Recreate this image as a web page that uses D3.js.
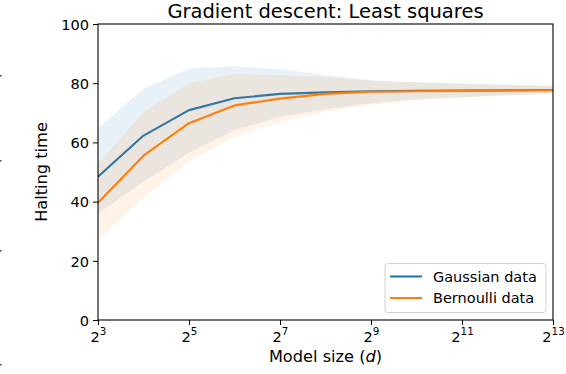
<!DOCTYPE html>
<html>
<head>
<meta charset="utf-8">
<script src="https://cdn.jsdelivr.net/npm/d3@7"></script>
<style>
  html, body { margin: 0; padding: 0; background: #fff; }
  svg { display: block; font-family: "DejaVu Sans", sans-serif; }
</style>
</head>
<body>
<svg id="chart" width="566" height="374"></svg>
<script>
// ---- data ----
const dims = [8, 16, 32, 64, 128, 256, 512, 1024, 2048, 4096, 8192];
const gaussMean = [48.4, 62.3, 70.9, 74.9, 76.4, 76.9, 77.3, 77.4, 77.5, 77.6, 77.7];
const gaussLow  = [36.0, 46.7, 56.5, 64.0, 68.7, 71.2, 73.2, 74.6, 75.3, 76.0, 76.6];
const gaussHigh = [64.9, 78.0, 85.0, 85.7, 84.7, 82.8, 81.0, 80.3, 79.9, 79.5, 79.1];
const bernMean  = [39.6, 55.5, 66.5, 72.5, 74.8, 76.4, 77.1, 77.3, 77.4, 77.5, 77.6];
const bernLow   = [27.0, 41.4, 53.6, 61.9, 67.0, 70.4, 72.6, 74.3, 75.1, 75.8, 76.4];
const bernHigh  = [52.8, 70.2, 80.0, 83.1, 82.7, 82.0, 80.8, 80.2, 79.8, 79.4, 79.0];
const xTickExps = [3, 5, 7, 9, 11, 13];
const yTicks = [0, 20, 40, 60, 80, 100];
const seriesNames = ["Gaussian data", "Bernoulli data"];
const colors = ["#1f77b4", "#ff7f0e"];
const title = "Gradient descent: Least squares";

// ---- layout ----
const L = 98, R = 553, T = 24, B = 320;
const svg = d3.select("#chart");
const x = d3.scaleLog().base(2).domain([8, 8192]).range([L, R]);
const y = d3.scaleLinear().domain([0, 100]).range([B, T]);

const series = [
  { name: seriesNames[0], color: colors[0], mean: gaussMean, low: gaussLow, high: gaussHigh },
  { name: seriesNames[1], color: colors[1], mean: bernMean, low: bernLow, high: bernHigh }
];

svg.append("clipPath").attr("id", "clip")
  .append("rect").attr("x", L).attr("y", T).attr("width", R - L).attr("height", B - T);
const plot = svg.append("g").attr("clip-path", "url(#clip)");

const area = d3.area().x(d => x(d.d)).y0(d => y(d.lo)).y1(d => y(d.hi));
const line = d3.line().x(d => x(d.d)).y(d => y(d.m));

series.forEach(s => {
  const pts = dims.map((d, i) => ({ d, m: s.mean[i], lo: s.low[i], hi: s.high[i] }));
  plot.append("path").datum(pts).attr("d", line)
    .attr("fill", "none").attr("stroke", s.color).attr("stroke-width", 2.1)
    .attr("stroke-linejoin", "round");
  plot.append("path").datum(pts).attr("d", area)
    .attr("fill", s.color).attr("fill-opacity", 0.1).attr("stroke", "none");
});

// ---- axes ----
const yAxis = svg.append("g").attr("transform", `translate(${L},0)`)
  .call(d3.axisLeft(y).tickValues(yTicks).tickSize(5).tickPadding(4));
const xAxis = svg.append("g").attr("transform", `translate(0,${B})`)
  .call(d3.axisBottom(x).tickValues(xTickExps.map(e => Math.pow(2, e))).tickSize(5).tickPadding(4)
    .tickFormat(() => ""));

[yAxis, xAxis].forEach(a => {
  a.select(".domain").remove();
  a.selectAll(".tick line").attr("stroke", "#000").attr("stroke-width", 1);
  a.selectAll("text").attr("fill", "#000").style("font-size", "14.6px")
    .style("font-family", "'DejaVu Sans', sans-serif");
});
yAxis.selectAll("text").attr("dy", "0.36em");

xAxis.selectAll(".tick").each(function (d) {
  const e = Math.round(Math.log2(d));
  const t = d3.select(this).select("text").attr("y", 21.5).attr("dy", null).text(null);
  t.append("tspan").text("2");
  t.append("tspan").attr("dy", -6.5).style("font-size", "10.3px").text(e);
});

// frame
svg.append("rect").attr("x", L).attr("y", T).attr("width", R - L).attr("height", B - T)
  .attr("fill", "none").attr("stroke", "#000").attr("stroke-width", 1.1);

// title & labels
svg.append("text").attr("x", (L + R) / 2).attr("y", 17.5).attr("text-anchor", "middle")
  .style("font-size", "19.5px").attr("fill", "#000").text(title);

const xl = svg.append("text").attr("x", (L + R) / 2).attr("y", 361.5).attr("text-anchor", "middle")
  .style("font-size", "16.2px").attr("fill", "#000");
xl.append("tspan").text("Model size (");
xl.append("tspan").style("font-style", "italic").text("d");
xl.append("tspan").text(")");

svg.append("text").attr("transform", `translate(47,${(T + B) / 2}) rotate(-90)`)
  .attr("text-anchor", "middle").style("font-size", "16.2px").attr("fill", "#000")
  .text("Halting time");

// legend
const lg = svg.append("g");
lg.append("rect").attr("x", 385).attr("y", 263.5).attr("width", 161).attr("height", 49)
  .attr("rx", 3).attr("fill", "#fff").attr("fill-opacity", 0.8)
  .attr("stroke", "#d0d0d0").attr("stroke-width", 1);
series.forEach((s, i) => {
  const yy = 276.5 + i * 21.5;
  lg.append("line").attr("x1", 390).attr("x2", 422).attr("y1", yy).attr("y2", yy)
    .attr("stroke", s.color).attr("stroke-width", 2.1);
  lg.append("text").attr("x", 433).attr("y", yy).attr("dy", "0.36em")
    .style("font-size", "14.5px").attr("fill", "#000").text(s.name);
});

// small edge marks from the source figure
[75, 160, 250, 364].forEach(v => {
  svg.append("rect").attr("x", 0).attr("y", v).attr("width", 1.5).attr("height", 1.5).attr("fill", "#444");
});
</script>
</body>
</html>
